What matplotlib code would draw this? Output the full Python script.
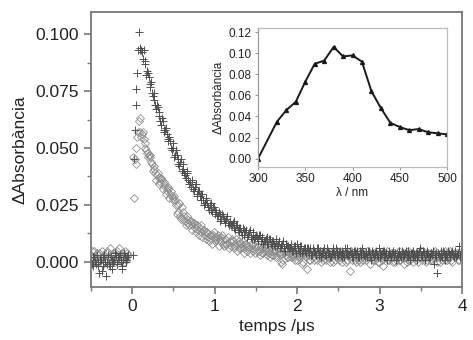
"""
Transient absorption decay with the transient spectrum as an inset.

This script will:
1. Plot the two kinetic traces (crosses and open diamonds) against time
2. Add the transient absorption spectrum in an inset
3. Save the figure to out.png
"""

import numpy as np
import matplotlib.pyplot as plt
from matplotlib.ticker import MultipleLocator, FormatStrFormatter

plt.rcParams['font.family'] = ['Liberation Sans', 'DejaVu Sans']

# Kinetic traces, two interleaved sample sets each:
#   pre-trigger  -0.50 .. -0.06 us and -0.49 .. -0.05 us
#   decay         0.02 ..  4.00 us and  0.01 ..  3.99 us
cross_pre = [0.001, -0.002, 0.002, -0.001, 0.000, -0.005, 0.001, -0.002, 0.003, -0.006,
             0.000, -0.001, 0.002, -0.003, 0.001, 0.003, -0.001, 0.002, 0.000, -0.002,
             0.004, 0.001, 0.002]
cross_pre_odd = [-0.001, 0.002, 0.000, 0.003, -0.002, 0.001, -0.004, 0.002, 0.000, -0.001,
                 0.003, -0.002, 0.001, 0.000, 0.004, -0.001, 0.002, 0.003, -0.003, 0.001,
                 0.002, 0.000, 0.003]
diamond_pre = [0.003, 0.001, 0.005, 0.002, 0.000, 0.004, 0.002, -0.001, 0.003, 0.001,
               0.005, 0.002, 0.000, 0.003, 0.004, 0.001, 0.002, 0.006, 0.001, 0.003,
               0.000, 0.002, 0.004]
diamond_pre_odd = [0.005, 0.002, 0.000, 0.004, 0.003, 0.001, 0.005, 0.002, 0.000, 0.004,
                   0.002, 0.006, 0.001, 0.003, 0.000, 0.005, 0.003, 0.001, 0.004, 0.002,
                   0.005, 0.001, 0.003]

cross_decay = [
    0.045, 0.069, 0.083, 0.101, 0.093,
    0.092, 0.093, 0.087, 0.084, 0.081,
    0.078, 0.074, 0.074, 0.069, 0.069,
    0.066, 0.062, 0.063, 0.058, 0.058,
    0.056, 0.053, 0.053, 0.049, 0.050,
    0.047, 0.047, 0.043, 0.044, 0.040,
    0.041, 0.038, 0.039, 0.036, 0.035,
    0.035, 0.032, 0.033, 0.030, 0.031,
    0.029, 0.030, 0.027, 0.026, 0.027,
    0.024, 0.025, 0.023, 0.024, 0.021,
    0.022, 0.020, 0.021, 0.019, 0.020,
    0.018, 0.019, 0.017, 0.018, 0.016,
    0.017, 0.015, 0.016, 0.014, 0.015,
    0.013, 0.015, 0.012, 0.014, 0.012,
    0.013, 0.011, 0.012, 0.010, 0.012,
    0.010, 0.012, 0.009, 0.011, 0.009,
    0.010, 0.008, 0.010, 0.008, 0.009,
    0.008, 0.009, 0.007, 0.009, 0.007,
    0.008, 0.006, 0.008, 0.007, 0.006,
    0.007, 0.005, 0.007, 0.006, 0.008,
    0.005, 0.007, 0.004, 0.006, 0.005,
    0.006, 0.004, 0.006, 0.003, 0.005,
    0.004, 0.006, 0.003, 0.005, 0.004,
    0.005, 0.003, 0.006, 0.004, 0.002,
    0.004, 0.006, 0.003, 0.005, 0.003,
    0.005, 0.002, 0.004, 0.006, 0.003,
    0.003, 0.005, 0.004, 0.002, 0.005,
    0.004, 0.002, 0.005, 0.003, 0.004,
    0.002, 0.004, 0.005, 0.003, 0.001,
    0.004, 0.003, 0.005, 0.002, 0.004,
    0.003, 0.005, 0.002, 0.004, 0.003,
    0.004, 0.002, 0.005, 0.003, 0.001,
    0.003, 0.005, 0.002, 0.004, 0.003,
    0.005, 0.002, 0.003, 0.004, 0.002,
    0.003, 0.004, 0.001, 0.005, 0.003,
    0.002, 0.004, 0.003, 0.005, 0.002,
    0.004, 0.003, -0.001, 0.004, -0.005,
    0.003, 0.005, 0.002, 0.004, 0.003,
    0.002, 0.004, 0.003, 0.005, 0.002,
    0.004, 0.003, 0.007, 0.002, 0.004,
]

cross_decay_odd = [
    0.003, 0.058, 0.076, 0.093, 0.094,
    0.093, 0.089, 0.088, 0.082, 0.083,
    0.077, 0.079, 0.073, 0.071, 0.067,
    0.068, 0.064, 0.060, 0.062, 0.057,
    0.059, 0.054, 0.055, 0.050, 0.052,
    0.046, 0.049, 0.045, 0.042, 0.045,
    0.043, 0.039, 0.037, 0.040, 0.034,
    0.033, 0.036, 0.031, 0.034, 0.029,
    0.031, 0.027, 0.030, 0.025, 0.028,
    0.026, 0.023, 0.026, 0.022, 0.024,
    0.023, 0.020, 0.022, 0.018, 0.021,
    0.019, 0.017, 0.020, 0.016, 0.017,
    0.016, 0.018, 0.014, 0.016, 0.013,
    0.015, 0.012, 0.014, 0.013, 0.011,
    0.012, 0.014, 0.010, 0.013, 0.011,
    0.011, 0.009, 0.012, 0.010, 0.008,
    0.009, 0.011, 0.008, 0.010, 0.007,
    0.009, 0.007, 0.010, 0.008, 0.006,
    0.007, 0.009, 0.005, 0.008, 0.007,
    0.006, 0.008, 0.005, 0.007, 0.004,
    0.006, 0.004, 0.007, 0.005, 0.006,
    0.004, 0.006, 0.005, 0.003, 0.006,
    0.005, 0.003, 0.006, 0.004, 0.002,
    0.004, 0.006, 0.003, 0.005, 0.004,
    0.002, 0.005, 0.004, 0.006, 0.003,
    0.004, 0.003, 0.005, 0.002, 0.004,
    0.006, 0.003, 0.004, 0.002, 0.005,
    0.003, 0.005, 0.002, 0.004, 0.006,
    0.003, 0.004, 0.002, 0.005, 0.003,
    0.005, 0.002, 0.004, 0.003, 0.006,
    0.002, 0.004, 0.005, 0.003, 0.001,
    0.005, 0.003, 0.004, 0.002, 0.004,
    0.002, 0.004, 0.003, 0.005, 0.002,
    0.004, 0.003, 0.005, 0.001, 0.004,
    0.005, 0.002, 0.004, 0.003, 0.006,
    0.003, 0.005, 0.001, 0.004, 0.003,
    0.002, 0.004, 0.005, 0.003, 0.002,
    0.004, 0.002, 0.003, 0.005, 0.001,
    0.003, 0.005, 0.002, 0.004, 0.003,
    0.005, 0.002, 0.004, 0.003, 0.005,
]

diamond_decay = [
    0.028, 0.043, 0.055, 0.062, 0.057,
    0.056, 0.054, 0.050, 0.048, 0.047,
    0.046, 0.043, 0.042, 0.039, 0.038,
    0.037, 0.035, 0.036, 0.034, 0.033,
    0.031, 0.032, 0.030, 0.029, 0.028,
    0.027, 0.021, 0.025, 0.020, 0.024,
    0.019, 0.018, 0.020, 0.017, 0.018,
    0.016, 0.017, 0.015, 0.016, 0.014,
    0.015, 0.013, 0.014, 0.012, 0.013,
    0.011, 0.012, 0.010, 0.012, 0.011,
    0.010, 0.012, 0.009, 0.011, 0.008,
    0.010, 0.008, 0.011, 0.009, 0.007,
    0.009, 0.007, 0.010, 0.008, 0.006,
    0.008, 0.009, 0.006, 0.008, 0.007,
    0.006, 0.008, 0.005, 0.007, 0.006,
    0.007, 0.005, 0.006, 0.004, 0.007,
    0.005, 0.006, 0.004, 0.006, 0.003,
    0.005, 0.003, 0.006, 0.004, 0.000,
    -0.001, 0.004, 0.005, 0.002, 0.004,
    0.003, 0.005, 0.002, 0.004, 0.001,
    0.004, 0.002, -0.001, 0.003, 0.005,
    -0.003, 0.003, 0.001, 0.004, 0.002,
    0.004, 0.001, 0.003, 0.005, 0.002,
    0.001, 0.004, 0.002, 0.003, 0.000,
    0.003, 0.005, 0.001, 0.002, 0.004,
    0.002, 0.000, 0.003, 0.004, 0.001,
    0.003, -0.004, 0.002, 0.004, 0.001,
    0.002, 0.004, 0.000, 0.003, 0.001,
    0.004, 0.002, 0.003, -0.001, 0.002,
    0.001, 0.003, 0.004, 0.000, 0.002,
    0.003, -0.002, 0.002, 0.004, 0.001,
    0.002, 0.004, 0.000, 0.003, 0.001,
    0.004, 0.001, 0.003, 0.002, -0.001,
    0.002, 0.005, 0.001, 0.003, 0.000,
    0.003, 0.001, 0.004, 0.002, 0.005,
    0.001, 0.003, 0.000, 0.004, 0.002,
    0.003, 0.001, 0.004, 0.002, 0.000,
    0.002, 0.004, 0.001, 0.003, 0.005,
    0.001, 0.003, 0.002, 0.000, 0.004,
    0.002, 0.004, 0.001, 0.003, 0.002,
]

diamond_decay_odd = [
    0.046, 0.045, 0.050, 0.057, 0.063,
    0.055, 0.057, 0.052, 0.049, 0.046,
    0.047, 0.044, 0.040, 0.041, 0.036,
    0.039, 0.034, 0.037, 0.032, 0.035,
    0.030, 0.033, 0.028, 0.031, 0.027,
    0.029, 0.025, 0.022, 0.026, 0.019,
    0.022, 0.020, 0.016, 0.019, 0.016,
    0.018, 0.014, 0.017, 0.013, 0.016,
    0.012, 0.016, 0.011, 0.014, 0.010,
    0.013, 0.009, 0.012, 0.008, 0.013,
    0.009, 0.011, 0.007, 0.010, 0.012,
    0.007, 0.010, 0.008, 0.006, 0.009,
    0.010, 0.006, 0.008, 0.005, 0.009,
    0.006, 0.007, 0.004, 0.008, 0.005,
    0.007, 0.004, 0.006, 0.008, 0.004,
    0.005, 0.007, 0.003, 0.006, 0.004,
    0.006, 0.003, 0.005, 0.002, 0.005,
    0.003, 0.005, 0.002, 0.006, 0.003,
    0.004, 0.001, 0.005, 0.003, 0.002,
    0.004, 0.002, 0.005, 0.001, 0.003,
    0.002, 0.005, 0.003, 0.000, 0.004,
    0.002, 0.004, 0.001, 0.003, 0.005,
    0.001, 0.003, 0.004, 0.002, 0.000,
    0.003, 0.005, 0.001, 0.004, 0.002,
    0.004, 0.000, 0.003, 0.002, 0.005,
    0.001, 0.004, 0.002, 0.003, 0.000,
    0.004, 0.002, 0.005, 0.001, 0.003,
    0.000, 0.003, 0.001, 0.004, 0.002,
    0.003, 0.001, 0.005, 0.002, 0.004,
    0.002, 0.004, 0.001, 0.003, 0.000,
    0.004, 0.001, 0.003, 0.002, 0.005,
    0.001, 0.003, 0.002, 0.004, 0.000,
    0.003, 0.005, 0.001, 0.002, 0.004,
    0.002, 0.000, 0.004, 0.001, 0.003,
    0.004, 0.002, 0.003, 0.000, 0.002,
    0.003, 0.005, 0.002, 0.001, 0.004,
    0.001, 0.004, 0.002, 0.005, 0.003,
    0.003, 0.000, 0.004, 0.002, 0.001,
    0.004, 0.002, 0.005, 0.001, 0.003,
    0.002, 0.003, 0.001, 0.004, 0.002,
]

# Transient spectrum
wavelengths = [300, 320, 330, 340, 350, 360, 370, 380, 390, 400,
               410, 420, 430, 440, 450, 460, 470, 480, 490, 500]
spectrum = [0.000, 0.035, 0.046, 0.054, 0.073, 0.090, 0.093, 0.106, 0.097, 0.098,
            0.092, 0.064, 0.048, 0.034, 0.030, 0.027, 0.028, 0.025, 0.024, 0.023]

TEXT_COLOR = '#222222'
SPINE_COLOR = '#777777'


def time_axis(values, start, stop):
    """Evenly sampled time points for one recorded segment."""
    return np.linspace(start, stop, len(values))


def trace(pre, pre_odd, decay, decay_odd):
    """Join the four segments of one trace into time and value arrays."""
    t = np.concatenate([time_axis(pre, -0.50, -0.06),
                        time_axis(pre_odd, -0.49, -0.05),
                        time_axis(decay, 0.02, 4.00),
                        time_axis(decay_odd, 0.01, 3.99)])
    y = np.array(pre + pre_odd + decay + decay_odd)
    return t, y


def draw_kinetics(ax):
    """Plot both decay traces on the main axes."""
    t_d, y_d = trace(diamond_pre, diamond_pre_odd, diamond_decay, diamond_decay_odd)
    t_c, y_c = trace(cross_pre, cross_pre_odd, cross_decay, cross_decay_odd)

    ax.plot(t_d, y_d, linestyle='none', marker='D', markersize=3.6,
            markerfacecolor='none', markeredgecolor='#8f8f8f', markeredgewidth=0.6)
    ax.plot(t_c, y_c, linestyle='none', marker='+', markersize=5.5,
            color='#505050', markeredgewidth=0.7)

    ax.set_xlim(-0.5, 4.0)
    ax.set_ylim(-0.011, 0.1097)
    ax.xaxis.set_major_locator(MultipleLocator(1))
    ax.xaxis.set_minor_locator(MultipleLocator(0.5))
    ax.yaxis.set_major_locator(MultipleLocator(0.025))
    ax.yaxis.set_minor_locator(MultipleLocator(0.0125))
    ax.yaxis.set_major_formatter(FormatStrFormatter('%.3f'))

    ax.tick_params(which='both', direction='out', top=False, right=False,
                   color=SPINE_COLOR, labelcolor=TEXT_COLOR, labelsize=12.5)
    ax.tick_params(which='major', length=5, width=1.2)
    ax.tick_params(which='minor', length=3, width=1.0)
    for spine in ax.spines.values():
        spine.set_color(SPINE_COLOR)
        spine.set_linewidth(1.3)

    ax.set_xlabel('temps /\u03bcs', fontsize=12.5, color=TEXT_COLOR, labelpad=4)
    ax.set_ylabel('\u0394Absorb\u00e0ncia', fontsize=12.5, color=TEXT_COLOR, labelpad=6)


def draw_spectrum(ax):
    """Plot the transient spectrum in the inset."""
    ax.plot(wavelengths, spectrum, color='#1a1a1a', linewidth=1.4,
            marker='^', markersize=2.8)

    ax.set_xlim(300, 500)
    ax.set_ylim(-0.008, 0.124)
    ax.xaxis.set_major_locator(MultipleLocator(50))
    ax.yaxis.set_major_locator(MultipleLocator(0.02))
    ax.yaxis.set_major_formatter(FormatStrFormatter('%.2f'))

    ax.tick_params(direction='out', length=2.5, width=0.8, color='#999999',
                   labelcolor=TEXT_COLOR, labelsize=8.5, pad=2)
    for spine in ax.spines.values():
        spine.set_color('#bbbbbb')
        spine.set_linewidth(0.9)
    ax.spines['left'].set_color('#999999')

    ax.set_xlabel('\u03bb / nm', fontsize=8.5, color=TEXT_COLOR, labelpad=1)
    ax.set_ylabel('\u0394Absorb\u00e0ncia', fontsize=8.5, color=TEXT_COLOR, labelpad=3)


def main():
    fig = plt.figure(figsize=(4.73, 3.40), dpi=100)
    ax = fig.add_axes([0.1924, 0.1559, 0.7843, 0.8088])
    draw_kinetics(ax)

    inset = fig.add_axes([0.5455, 0.5088, 0.3995, 0.4088])
    draw_spectrum(inset)

    fig.savefig('out.png', dpi=100)


if __name__ == "__main__":
    main()
